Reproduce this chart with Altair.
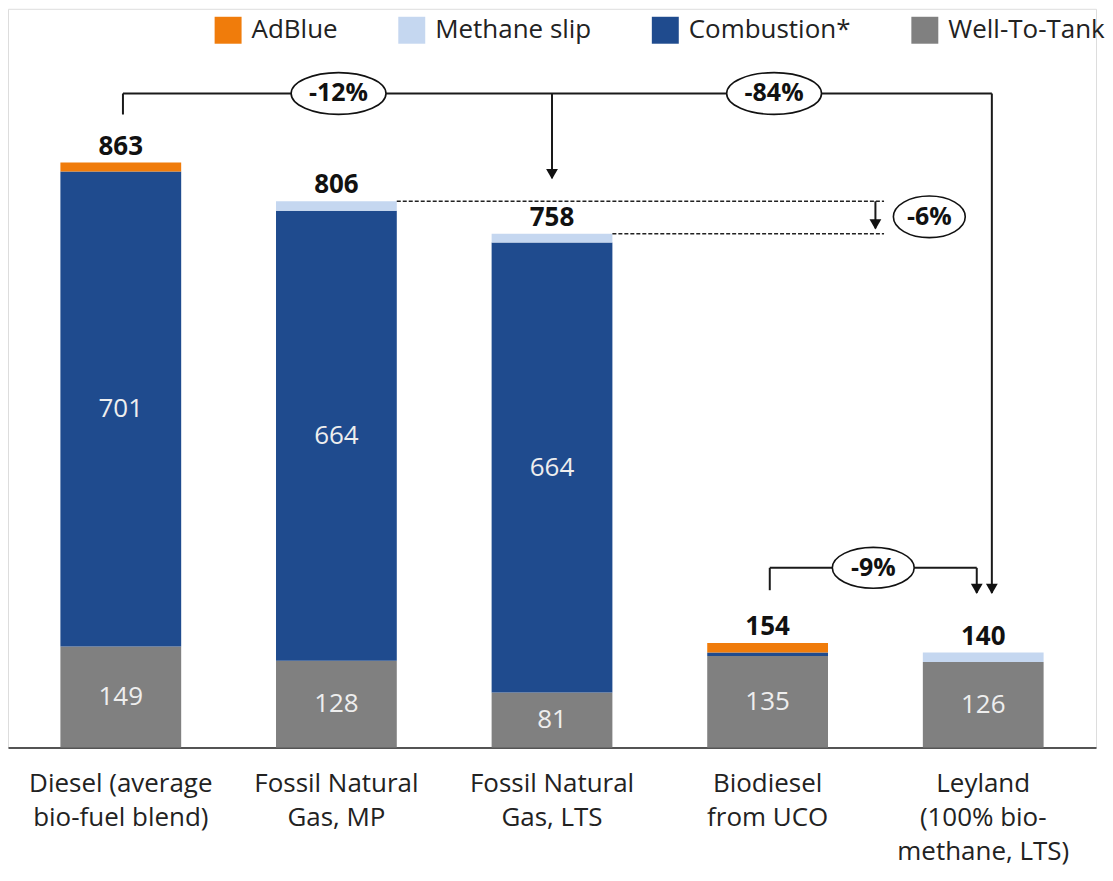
import altair as alt
import pandas as pd

# ---------------- data ----------------
categories = ["Diesel (average\nbio-fuel blend)", "Fossil Natural\nGas, MP",
              "Fossil Natural\nGas, LTS", "Biodiesel\nfrom UCO",
              "Leyland\n(100% bio-\nmethane, LTS)"]
well_to_tank = [149, 128, 81, 135, 126]
combustion = [701, 664, 664, 5, 0]
methane_slip = [0, 14, 13, 0, 14]
adblue = [13, 0, 0, 14, 0]
totals = [863, 806, 758, 154, 140]

series_names = ["AdBlue", "Methane slip", "Combustion*", "Well-To-Tank"]
series_colors = ["#f07c0b", "#c5d7f0", "#1f4b8e", "#808080"]

# annotation geometry in data units (x = category index, y = g CO2e/km)
brackets = [  # x, y, x2, y2, dashed
    (0.01, 965, 4.04, 965, 0), (0.01, 965, 0.01, 934, 0),
    (2.0, 965, 2.0, 840, 0), (4.04, 965, 4.04, 228, 0),
    (3.01, 265, 3.97, 265, 0), (3.01, 265, 3.01, 232, 0),
    (3.97, 265, 3.97, 228, 0),
    (1.28, 806, 3.54, 806, 1), (2.28, 758, 3.54, 758, 1),
    (3.50, 806, 3.50, 766, 0),
]
arrow_tips = [(2.0, 840), (4.04, 228), (3.97, 228), (3.50, 766)]
pct_labels = ["-12%", "-84%", "-6%", "-9%"]
pct_x = [1.01, 3.03, 3.75, 3.49]
pct_y = [965, 965, 783, 265]
pct_w = [95, 95, 72, 82]
pct_ry = [0.44, 0.44, 0.58, 0.5]

# ---------------- tables ----------------
rows = []
for i, cat in enumerate(categories):
    for order, (name, vals) in enumerate([("Well-To-Tank", well_to_tank),
                                          ("Combustion*", combustion),
                                          ("Methane slip", methane_slip),
                                          ("AdBlue", adblue)]):
        rows.append({"idx": i, "series": name, "value": vals[i], "order": order})
bars_df = pd.DataFrame(rows)
tot_df = pd.DataFrame({"idx": range(5), "total": totals, "cat": categories})
seg_df = pd.DataFrame(brackets, columns=["x", "y", "x2", "y2", "dashed"])
tip_df = pd.DataFrame(arrow_tips, columns=["x", "y"])
ell_df = pd.DataFrame({
    "x": pct_x, "y": pct_y, "label": pct_labels,
    "size": [w * w for w in pct_w],
    "shape": [f"M -1 0 A 1 {r} 0 1 1 1 0 A 1 {r} 0 1 1 -1 0 Z" for r in pct_ry],
})

FONT = "Open Sans"
xs = alt.Scale(domain=[-0.5, 4.5], nice=False, zero=False)
ys = alt.Scale(domain=[0, 1090], nice=False, zero=True)
xaxis = alt.Axis(labels=False, ticks=False, grid=False, domain=True,
                 domainColor="#222222", domainWidth=1.5, title=None)

base_bars = alt.Chart(bars_df).transform_stack(
    stack="value", groupby=["idx"], as_=["y0", "y1"],
    sort=[alt.SortField("order", order="ascending")]
)

bars = base_bars.mark_bar(size=121).encode(
    x=alt.X("idx:Q", scale=xs, axis=xaxis),
    y=alt.Y("y0:Q", scale=ys, axis=None),
    y2="y1:Q",
    color=alt.Color("series:N",
                    scale=alt.Scale(domain=series_names, range=series_colors),
                    legend=alt.Legend(title=None, orient="none", legendX=207,
                                      legendY=8, direction="horizontal",
                                      symbolType="square", symbolSize=729,
                                      symbolStrokeWidth=0, symbolOpacity=1,
                                      labelFontSize=26, labelFont=FONT,
                                      labelColor="#222222", labelOffset=10,
                                      labelLimit=400, columnPadding=60)),
)

seg_labels = base_bars.transform_filter("datum.value > 50").transform_calculate(
    mid="(datum.y0 + datum.y1) / 2"
).mark_text(fontSize=26, font=FONT, color="#eeeeee").encode(
    x=alt.X("idx:Q", scale=xs, axis=xaxis),
    y=alt.Y("mid:Q", scale=ys, axis=None),
    text="value:Q",
)

tot_labels = alt.Chart(tot_df).mark_text(
    fontSize=26, font=FONT, fontWeight="bold", color="#111111",
    baseline="bottom", dy=-3
).encode(
    x=alt.X("idx:Q", scale=xs, axis=xaxis),
    y=alt.Y("total:Q", scale=ys, axis=None),
    text="total:Q",
)

cat_labels = alt.Chart(tot_df).transform_calculate(
    zero="0", lines="split(datum.cat, '\\n')"
).mark_text(
    fontSize=26, font=FONT, color="#222222", baseline="top", dy=24,
    lineHeight=34
).encode(
    x=alt.X("idx:Q", scale=xs, axis=xaxis),
    y=alt.Y("zero:Q", scale=ys, axis=None),
    text="lines:N",
)

solid = alt.Chart(seg_df).transform_filter("datum.dashed == 0").mark_rule(
    color="#1a1a1a", strokeWidth=2
).encode(
    x=alt.X("x:Q", scale=xs, axis=xaxis), x2="x2:Q",
    y=alt.Y("y:Q", scale=ys, axis=None), y2="y2:Q",
)
dashed = alt.Chart(seg_df).transform_filter("datum.dashed == 1").mark_rule(
    color="#222222", strokeWidth=1.5, strokeDash=[4, 2]
).encode(
    x=alt.X("x:Q", scale=xs, axis=xaxis), x2="x2:Q",
    y=alt.Y("y:Q", scale=ys, axis=None), y2="y2:Q",
)

tips = alt.Chart(tip_df).mark_point(
    shape="triangle-down", size=140, filled=True, color="#111111", opacity=1,
    yOffset=-4
).encode(
    x=alt.X("x:Q", scale=xs, axis=xaxis),
    y=alt.Y("y:Q", scale=ys, axis=None),
)

ellipses = alt.Chart(ell_df).mark_point(
    filled=False, fill="white", fillOpacity=1, stroke="#111111",
    strokeWidth=1.6, opacity=1
).encode(
    x=alt.X("x:Q", scale=xs, axis=xaxis),
    y=alt.Y("y:Q", scale=ys, axis=None),
    shape=alt.Shape("shape:N", scale=None),
    size=alt.Size("size:Q", scale=None),
)

ell_text = alt.Chart(ell_df).mark_text(
    fontSize=25, font=FONT, fontWeight="bold", color="#111111"
).encode(
    x=alt.X("x:Q", scale=xs, axis=xaxis),
    y=alt.Y("y:Q", scale=ys, axis=None),
    text="label:N",
)

chart = alt.layer(
    bars, seg_labels, tot_labels, cat_labels, solid, dashed, tips,
    ellipses, ell_text
).properties(
    width=1090, height=740,
    padding={"left": 0, "top": 0, "right": 0, "bottom": 6}
).configure_view(stroke=None).configure(background="white")

chart.save("out.html", embed_options={"renderer": "svg", "actions": False})
